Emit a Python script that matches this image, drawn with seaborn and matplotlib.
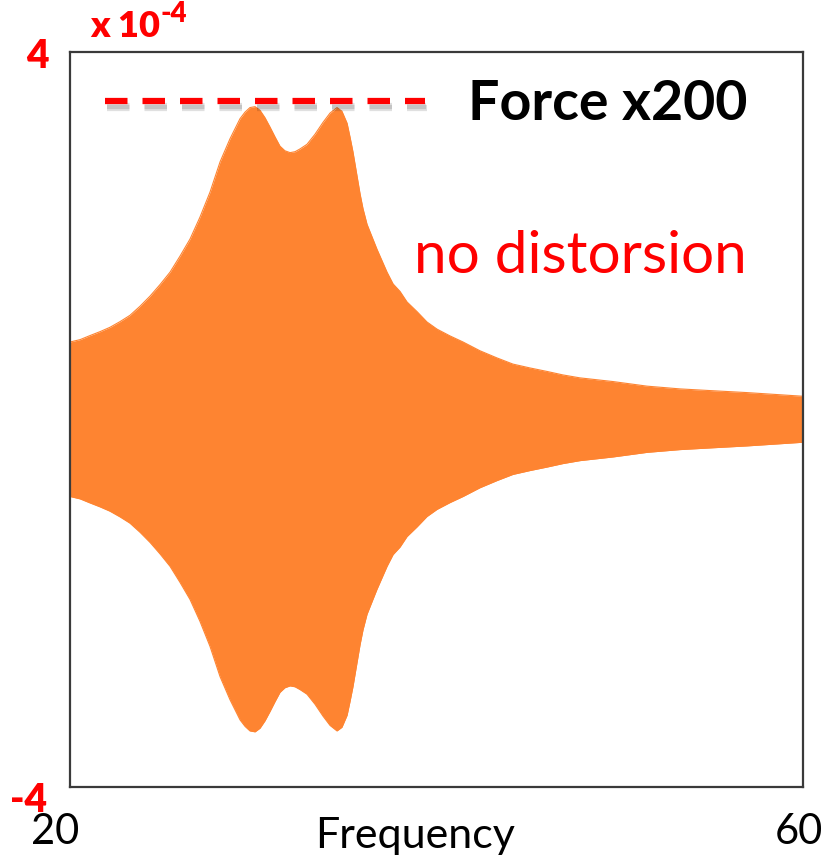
import matplotlib
matplotlib.use("Agg")
import matplotlib.pyplot as plt
import matplotlib.patheffects as pe
from matplotlib.transforms import ScaledTranslation
import numpy as np
import pandas as pd
import seaborn as sns

# ---- data (amplitude in units of 1e-4) ----
frequency = [20.00, 20.55, 21.09, 21.64, 22.18, 22.73, 23.27, 23.82, 24.37, 24.91,
             25.46, 26.00, 26.55, 27.09, 27.64, 28.19, 28.73,
             29.28, 29.55, 29.82, 30.10, 30.37, 30.64, 30.91, 31.19, 31.46, 31.73,
             32.01, 32.28, 32.55, 32.93, 33.37, 33.81, 34.19, 34.57, 34.84, 35.12,
             35.28, 35.44, 35.66, 35.83, 35.99, 36.21, 36.37, 36.75, 37.30, 37.63,
             38.01, 38.39, 38.94, 39.48, 40.03, 40.74, 41.45, 42.37, 43.30, 44.17,
             45.10, 46.03, 46.90, 47.83, 49.63, 51.49, 53.29, 55.09, 56.94, 60.00]
envelope = [0.84, 0.866, 0.91, 0.953, 1.00, 1.062, 1.13, 1.229, 1.34, 1.464,
            1.60, 1.773, 1.96, 2.197, 2.47, 2.80, 3.05,
            3.27, 3.34, 3.39, 3.40, 3.36, 3.28, 3.18, 3.07, 2.97, 2.92,
            2.90, 2.91, 2.94, 2.99, 3.10, 3.23, 3.33, 3.39, 3.35, 3.22,
            3.07, 2.91, 2.65, 2.45, 2.29, 2.12, 2.04, 1.85, 1.60, 1.472,
            1.39, 1.276, 1.17, 1.058, 0.98, 0.906, 0.84, 0.745, 0.667, 0.60,
            0.558, 0.52, 0.482, 0.45, 0.41, 0.36, 0.33, 0.31, 0.29, 0.25]
x_ticks = [20, 60]
x_tick_labels = ["20", "60"]
y_ticks = [-4, 4]
y_tick_labels = ["-4", "4"]
x_label = "Frequency"
legend_label = "Force x200"
annotation = "no distorsion"
scale_text = "x 10"
scale_exp = "-4"

ORANGE = "#FE8431"
RED = "#FF0000"

sns.set_theme(style="white")
plt.rcParams["font.family"] = ["Lato", "DejaVu Sans"]

df = pd.DataFrame({"Frequency": frequency,
                   "upper": envelope,
                   "lower": [-v for v in envelope]})

fig = plt.figure(figsize=(8.36, 8.62), dpi=100)
ax = fig.add_axes([70 / 836, 1 - 788 / 862, 733 / 836, 735.5 / 862])

ax.fill_between(df["Frequency"], df["lower"], df["upper"], color=ORANGE, lw=0)
sns.lineplot(data=df, x="Frequency", y="upper", ax=ax, color=ORANGE, lw=0.8)
sns.lineplot(data=df, x="Frequency", y="lower", ax=ax, color=ORANGE, lw=0.8)

ax.set_xlim(20, 60)
ax.set_ylim(-4, 4)
ax.set_xticks(x_ticks)
ax.set_xticklabels(x_tick_labels, fontsize=30, color="black")
ax.set_yticks(y_ticks)
ax.set_yticklabels(y_tick_labels, fontsize=28, color=RED, fontweight="heavy")
ax.tick_params(axis="both", length=0)
ax.tick_params(axis="x", pad=18)
ax.tick_params(axis="y", pad=15)
ax.set_ylabel("")
ax.set_xlabel(x_label, fontsize=31, color="black")
ax.xaxis.set_label_coords((415 - 70) / 733, -0.040)

for sp in ax.spines.values():
    sp.set_visible(True)
    sp.set_color("#3a3a3a")
    sp.set_linewidth(1.6)

# shift tick labels to match reference placement
xl = ax.get_xticklabels()
xl[0].set_transform(xl[0].get_transform() + ScaledTranslation(-0.15, 0, fig.dpi_scale_trans))
xl[1].set_transform(xl[1].get_transform() + ScaledTranslation(-0.04, 0, fig.dpi_scale_trans))
yl = ax.get_yticklabels()
yl[0].set_transform(yl[0].get_transform() + ScaledTranslation(-0.02, -0.09, fig.dpi_scale_trans))

# dashed legend line with soft shadow
ax.plot([0.048, 0.484], [0.933, 0.933], transform=ax.transAxes, color=RED,
        lw=4.5, dashes=(3.6, 2.4), dash_capstyle="butt",
        path_effects=[pe.SimpleLineShadow(offset=(1.5, -5.0), shadow_color="black", alpha=0.12),
                      pe.SimpleLineShadow(offset=(1.0, -4.0), shadow_color="black", alpha=0.12),
                      pe.Normal()], clip_on=False)

fig.text(747 / 836, 1 - 104 / 862, legend_label, ha="right", va="center",
         fontsize=40, fontweight="bold", color="black")
fig.text(747 / 836, 1 - 273 / 862, annotation, ha="right", va="baseline",
         fontsize=42, color=RED)
fig.text(90 / 836, 1 - 37 / 862, scale_text, ha="left", va="baseline",
         fontsize=26, fontweight="heavy", color=RED)
fig.text(160 / 836, 1 - 22 / 862, scale_exp, ha="left", va="baseline",
         fontsize=20, fontweight="heavy", color=RED)

fig.savefig("out.png", dpi=100)
